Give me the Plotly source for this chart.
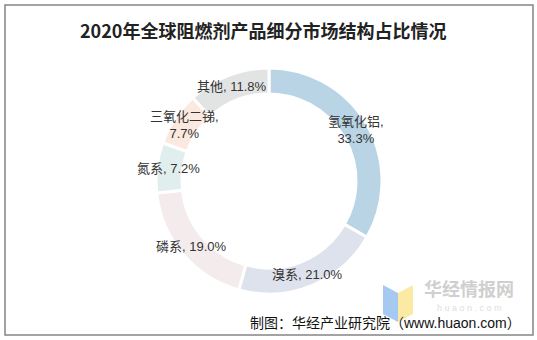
import math
import plotly.graph_objects as go

title_text = "2020年全球阻燃剂产品细分市场结构占比情况"
categories = ["氢氧化铝", "溴系", "磷系", "氮系", "三氧化二锑", "其他"]
values = [33.3, 21.0, 19.0, 7.2, 7.7, 11.8]
label_texts = ["氢氧化铝,<br>33.3%", "溴系, 21.0%", "磷系, 19.0%", "氮系, 7.2%", "三氧化二锑,<br>7.7%", "其他, 11.8%"]
colors = ["#b8d4e5", "#dee2ec", "#f4ecec", "#e1eeee", "#fbe9df", "#e2e3e3"]
source_text = "制图：华经产业研究院（www.huaon.com）"

W, H = 537, 340
cx, cy = 269, 181          # pie centre in pixels (from top)
R = 113                    # outer radius px
hole = 0.77
label_r = R * (1 + hole) / 2 + 1

fig = go.Figure()
fig.add_trace(go.Pie(
    labels=categories, values=values, sort=False, direction="clockwise",
    hole=hole, textinfo="none", hoverinfo="label+percent",
    marker=dict(colors=colors, line=dict(color="white", width=3)),
    domain=dict(x=[(cx - R) / W, (cx + R) / W], y=[(H - cy - R) / H, (H - cy + R) / H]),
    showlegend=False,
))

annotations = []
total = sum(values)
cum = 0.0
for txt, v in zip(label_texts, values):
    mid = (cum + v / 2) / total * 2 * math.pi
    cum += v
    px = cx + label_r * math.sin(mid)
    py = cy - label_r * math.cos(mid)
    annotations.append(dict(
        x=px / W, y=1 - py / H, xref="paper", yref="paper", text=txt, showarrow=False,
        xanchor="center", yanchor="middle", align="center",
        font=dict(family="Liberation Sans, Noto Sans CJK SC", size=13, color="#333333"),
    ))

# title
annotations.append(dict(
    x=0.5 * (80 + 445) / W, y=1 - 30 / H, xref="paper", yref="paper",
    text="<b>" + title_text + "</b>", showarrow=False, xanchor="center", yanchor="middle",
    font=dict(family="Noto Sans CJK SC", size=18, color="#222222"),
))
# watermark
annotations.append(dict(
    x=469 / W, y=1 - 288 / H, xref="paper", yref="paper", text="<b>华经情报网</b>",
    showarrow=False, xanchor="center", yanchor="middle", borderpad=0,
    font=dict(family="Noto Sans CJK SC", size=18, color="#cfcfcf"),
))
annotations.append(dict(
    x=469 / W, y=1 - 308 / H, xref="paper", yref="paper", text="h u a o n . c o m",
    showarrow=False, xanchor="center", yanchor="middle", borderpad=0,
    font=dict(family="Liberation Sans", size=9, color="#dddddd"),
))
# source
annotations.append(dict(
    x=522 / W, y=1 - 323 / H, xref="paper", yref="paper", text=source_text,
    showarrow=False, xanchor="right", yanchor="middle", borderpad=0,
    font=dict(family="Liberation Sans, Noto Sans CJK SC", size=14, color="#111111"),
))

shapes = [
    dict(type="rect", xref="paper", yref="paper", x0=5 / W, x1=533 / W, y0=1 - 335 / H, y1=1 - 5 / H,
         line=dict(color="#858585", width=1.5), fillcolor="rgba(0,0,0,0)", layer="below"),
]

def pp(x, y):
    return f"{x / W},{1 - y / H}"

shapes.append(dict(type="path", xref="paper", yref="paper",
                   path=f"M {pp(383,285)} L {pp(398,293)} L {pp(398,322)} L {pp(383,314)} Z",
                   fillcolor="#a6c9f2", line=dict(width=0)))
shapes.append(dict(type="path", xref="paper", yref="paper",
                   path=f"M {pp(398,293)} L {pp(413,285)} L {pp(413,314)} L {pp(398,322)} Z",
                   fillcolor="#fbeaa3", line=dict(width=0)))

fig.update_layout(
    width=W, height=H, autosize=False,
    margin=dict(l=0, r=0, t=0, b=0),
    paper_bgcolor="white", plot_bgcolor="white",
    annotations=annotations, shapes=shapes,
)
fig.write_html("out.html")
